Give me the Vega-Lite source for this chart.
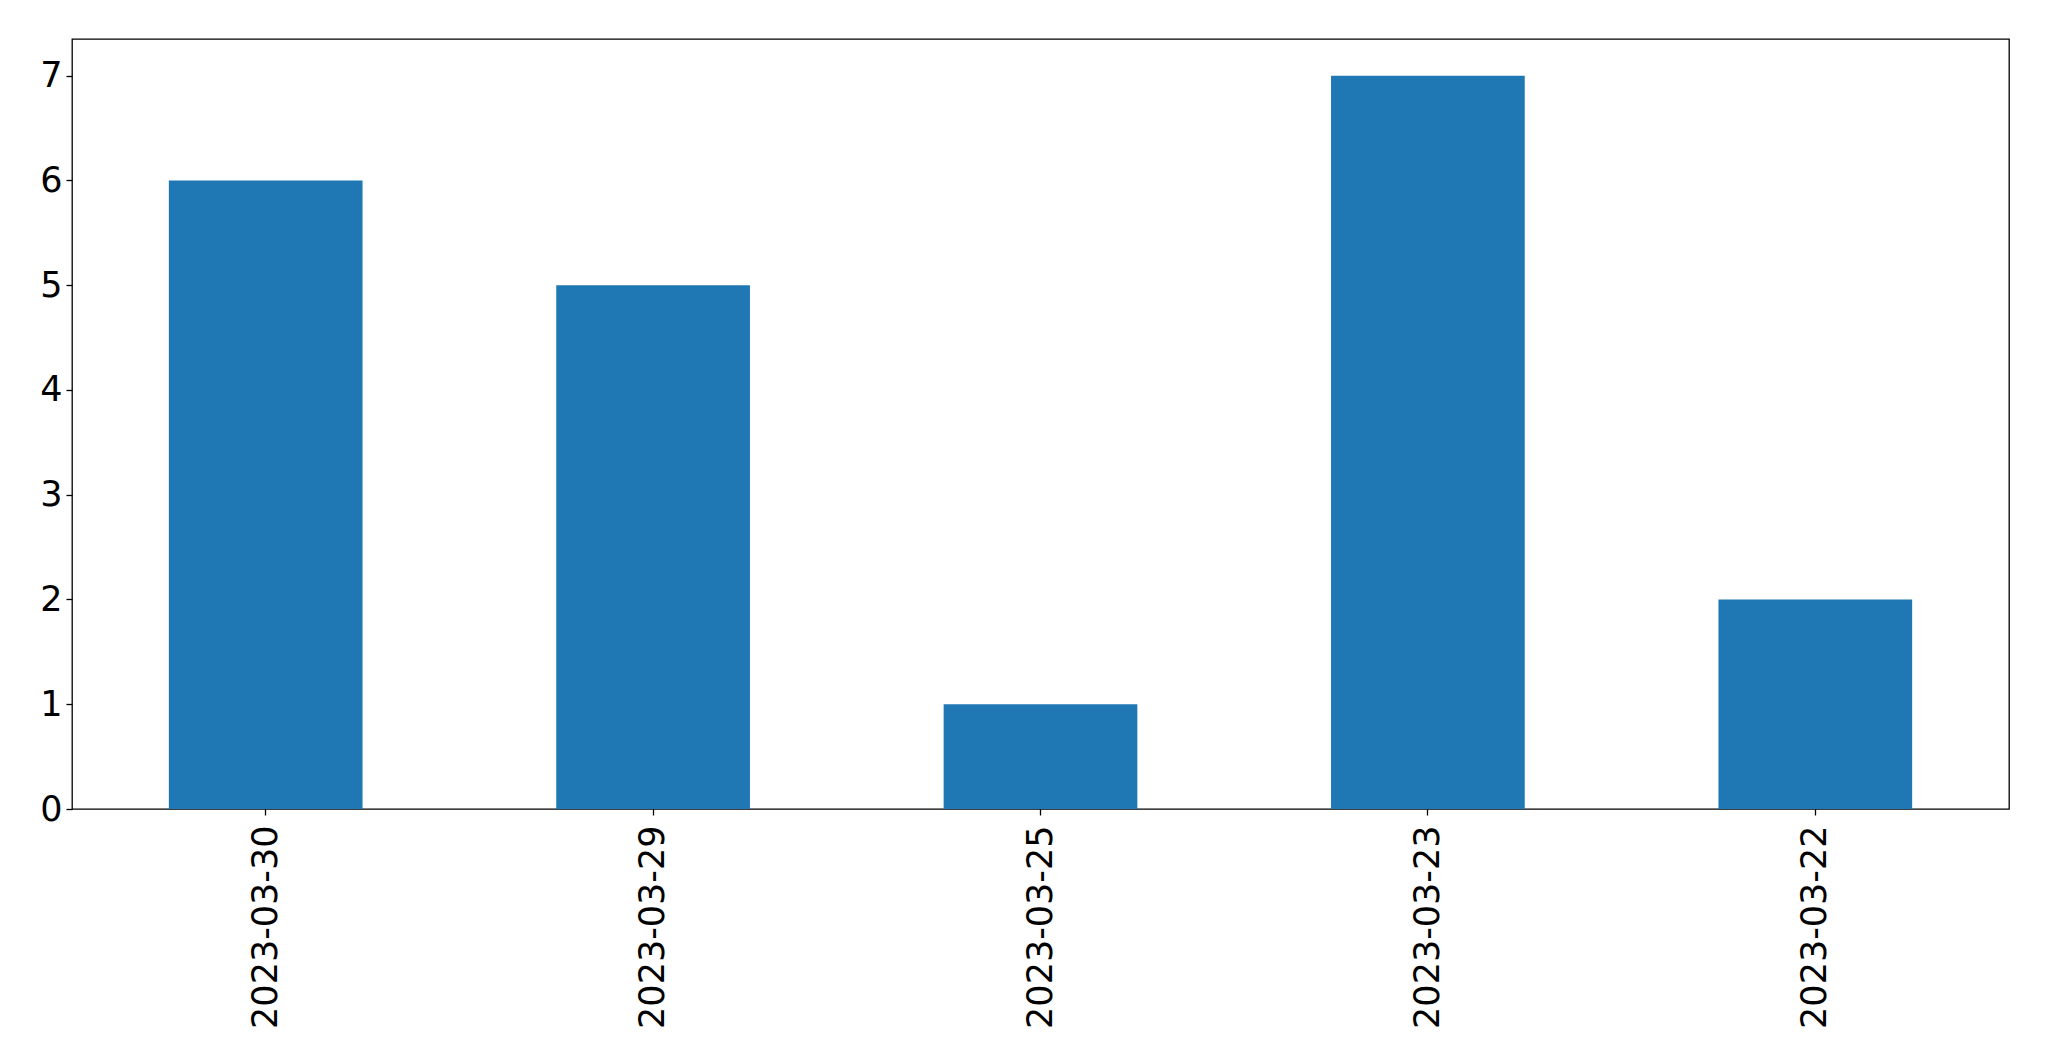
{
  "$schema": "https://vega.github.io/schema/vega-lite/v6.json",
  "width": 1937,
  "height": 770,
  "autosize": {"type": "none"},
  "padding": {"left": 72, "top": 39, "right": 40, "bottom": 252},
  "background": "white",
  "config": {
    "font": "DejaVu Sans",
    "view": {"stroke": "black", "strokeWidth": 1.3},
    "axis": {"grid": false, "domain": false, "tickColor": "black", "tickSize": 6, "tickWidth": 1.3, "labelColor": "black", "labelFont": "DejaVu Sans", "labelFontSize": 35, "labelLimit": 0, "title": null}
  },
  "data": {
    "values": [
      {"date": "2023-03-30", "count": 6},
      {"date": "2023-03-29", "count": 5},
      {"date": "2023-03-25", "count": 1},
      {"date": "2023-03-23", "count": 7},
      {"date": "2023-03-22", "count": 2}
    ]
  },
  "mark": {"type": "bar", "color": "#1f77b4"},
  "encoding": {
    "x": {
      "field": "date", "type": "nominal", "sort": null,
      "scale": {"paddingInner": 0.5, "paddingOuter": 0.25},
      "axis": {"labelAngle": -90, "labelAlign": "right", "labelBaseline": "middle", "labelPadding": 10}
    },
    "y": {
      "field": "count", "type": "quantitative",
      "scale": {"domain": [0, 7.35], "nice": false, "zero": true},
      "axis": {"values": [0, 1, 2, 3, 4, 5, 6, 7], "labelPadding": 4}
    }
  }
}
